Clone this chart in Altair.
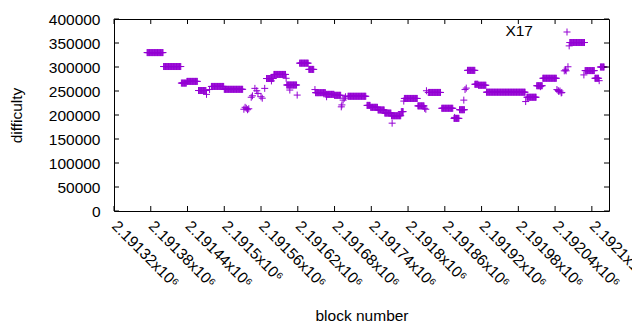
import altair as alt
import pandas as pd

FONT = "Liberation Sans"
PURPLE = "#9400D3"
SERIES = "X17"

# constant-difficulty runs (first block, last block, difficulty)
run_start = [2191374, 2191401, 2191430, 2191439, 2191458, 2191479, 2191500, 2191569,
             2191581, 2191602, 2191623, 2191638, 2191649, 2191666, 2191680, 2191702,
             2191733, 2191739, 2191751, 2191762, 2191773, 2191789, 2191794, 2191816,
             2191833, 2191855, 2191875, 2191884, 2191897, 2191909, 2191915, 2191928,
             2191994, 2192010, 2192020, 2192064, 2192089, 2192105, 2192114]
run_end = [2191400, 2191429, 2191438, 2191456, 2191470, 2191499, 2191530, 2191580,
           2191600, 2191618, 2191637, 2191646, 2191665, 2191679, 2191690, 2191731,
           2191738, 2191750, 2191761, 2191772, 2191788, 2191792, 2191815, 2191826,
           2191853, 2191873, 2191883, 2191892, 2191909, 2191914, 2191927, 2191991,
           2192009, 2192019, 2192042, 2192088, 2192104, 2192111, 2192120]
run_value = [330000, 301000, 266500, 270000, 251000, 259500, 253500, 276000,
             284500, 262500, 308000, 295000, 246500, 243000, 241000, 239000,
             220000, 216000, 210500, 204000, 198500, 207000, 234500, 219000,
             247000, 214000, 193000, 211000, 293000, 264000, 262000, 247500,
             237000, 261000, 276500, 351000, 292500, 276500, 300000]

# isolated blocks
pt_block = [2191471, 2191476, 2191532, 2191534, 2191536, 2191538, 2191540, 2191544,
            2191546, 2191550, 2191553, 2191555, 2191560, 2191562, 2191566, 2191577,
            2191601, 2191607, 2191619, 2191648, 2191667, 2191691, 2191692, 2191694,
            2191696, 2191698, 2191774, 2191793, 2191827, 2191829, 2191830, 2191876,
            2191891, 2191893, 2191895, 2191992, 2192016, 2192043, 2192045, 2192046,
            2192048, 2192050, 2192051, 2192055, 2192057, 2192058, 2192061, 2192063,
            2192087, 2192112]
pt_value = [243000, 253000, 212000, 216000, 214000, 211000, 213000, 237000,
            240000, 255500, 250500, 245000, 238000, 235000, 255500, 271000,
            276500, 252000, 241500, 253000, 238000, 217000, 221000, 231000,
            235000, 238000, 183000, 229000, 214000, 212000, 250500, 195000,
            231000, 253000, 256000, 228000, 259000, 253000, 251000, 249000,
            250000, 246000, 247000, 292000, 294000, 292000, 300500, 344000,
            283500, 271500]

x_ticks = [2191320, 2191380, 2191440, 2191500, 2191560, 2191620, 2191680,
           2191740, 2191800, 2191860, 2191920, 2191980, 2192040, 2192100]
y_ticks = [0, 50000, 100000, 150000, 200000, 250000, 300000, 350000, 400000]
x_domain = [2191320, 2192128]
y_domain = [0, 400000]

rows = []
for s, e, v in zip(run_start, run_end, run_value):
    for b in range(s, e + 1):
        rows.append({"block": b, "difficulty": v})
for b, v in zip(pt_block, pt_value):
    rows.append({"block": b, "difficulty": v})
df = pd.DataFrame(rows)

W, H = 495, 192
FS = 15.5
PLUS = "M-1,0L1,0M0,-1L0,1"
xs = alt.Scale(domain=x_domain, nice=False, zero=False)
ys = alt.Scale(domain=y_domain, nice=False)

points = alt.Chart(df).mark_point(
    shape=PLUS, filled=False, size=49, strokeWidth=1, color=PURPLE, opacity=1
).encode(
    x=alt.X("block:Q", scale=xs, axis=alt.Axis(
        title="block number", values=x_ticks, tickCount=len(x_ticks) + 5,
        labelExpr="format(datum.value / 1000000, '.5~f') + 'x10⁶'",
        labelAngle=45, labelAlign="left", labelBaseline="middle", labelPadding=12,
        titleY=109, titleBaseline="alphabetic")),
    y=alt.Y("difficulty:Q", scale=ys, axis=alt.Axis(
        title="difficulty", values=y_ticks, tickCount=len(y_ticks) + 5,
        format="d", labelPadding=14,
        titleX=-98, titleY=H / 2, titleAngle=-90, titleBaseline="middle", titleAlign="center")),
)

xt = pd.DataFrame({"block": x_ticks})
yt = pd.DataFrame({"difficulty": y_ticks})
tick_len = 5
xb = alt.Chart(xt).mark_rule(color="black", strokeWidth=1).encode(
    x=alt.X("block:Q", scale=xs), y=alt.value(H), y2=alt.value(H - tick_len))
xtop = alt.Chart(xt).mark_rule(color="black", strokeWidth=1).encode(
    x=alt.X("block:Q", scale=xs), y=alt.value(0), y2=alt.value(tick_len))
yl = alt.Chart(yt).mark_rule(color="black", strokeWidth=1).encode(
    y=alt.Y("difficulty:Q", scale=ys), x=alt.value(0), x2=alt.value(tick_len))
yr = alt.Chart(yt).mark_rule(color="black", strokeWidth=1).encode(
    y=alt.Y("difficulty:Q", scale=ys), x=alt.value(W - tick_len), x2=alt.value(W))

leg_df = pd.DataFrame({"name": [SERIES]})
leg_text = alt.Chart(leg_df).mark_text(
    align="right", baseline="alphabetic", font=FONT, fontSize=FS, color="black"
).encode(text="name:N", x=alt.value(419), y=alt.value(17))
leg_pt = alt.Chart(leg_df).mark_point(
    shape=PLUS, filled=False, size=49, strokeWidth=1, color=PURPLE, opacity=1
).encode(x=alt.value(453), y=alt.value(13))

chart = alt.layer(points, xb, xtop, yl, yr, leg_text, leg_pt).properties(
    width=W, height=H,
    padding={"left": 106, "top": 11, "right": 23, "bottom": 111},
    autosize=alt.AutoSizeParams(type="none"),
).configure_view(
    stroke="black", strokeWidth=1
).configure_axis(
    labelOverlap=False, labelFlush=False, labelBound=False,
    ticks=False, domain=False, grid=False,
    labelFont=FONT, labelFontSize=FS, labelColor="black",
    titleFont=FONT, titleFontSize=FS, titleFontWeight="normal", titleColor="black",
)

chart.save("out.html", embed_options={"renderer": "svg", "actions": False})
